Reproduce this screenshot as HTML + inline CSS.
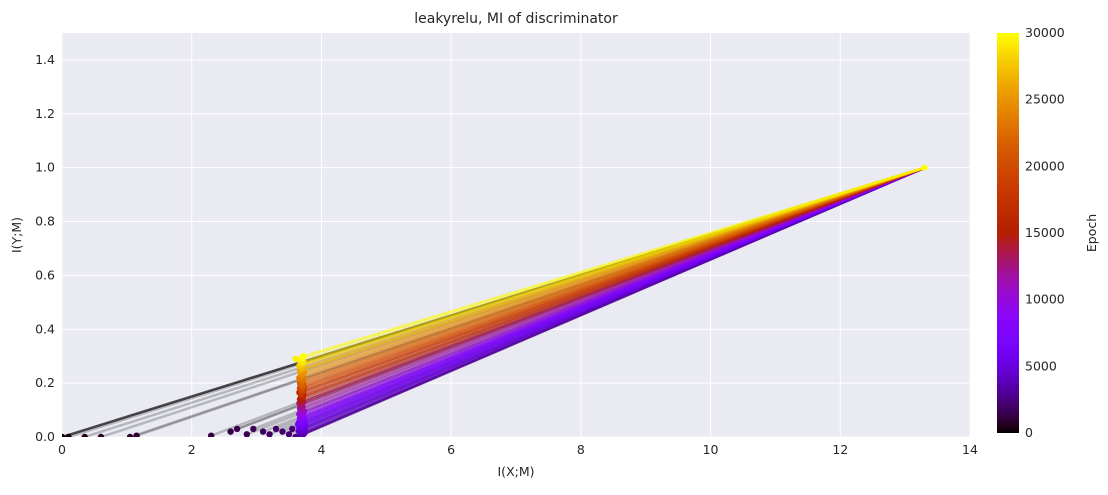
<!DOCTYPE html>
<html><head><meta charset="utf-8"><style>
body{margin:0;background:#fff;font-family:"Liberation Sans","DejaVu Sans",sans-serif;}
svg text{font-family:"DejaVu Sans","Liberation Sans",sans-serif;fill:#262626;}
</style></head><body>
<svg id="c" width="1108" height="490" viewBox="0 0 1108 490" xmlns="http://www.w3.org/2000/svg"></svg>
<script>
const epochs=[0,200,400,600,800,1000,1200,1400,1500,1600,1700,1800,1900,2000,2100,2200,2300,2400,
2500,2700,2900,3100,3300,3500,3700,3900,4100,4300,4500,4700,4900,5100,5300,5500,5700,5900,6100,6300,6500,6700,6900,7100,7300,7500,7700,7900,
8200,8600,9000,9400,9800,10200,10600,11000,11400,11800,12200,12600,13000,13400,13800,
14200,14600,15000,15400,15800,16200,16600,17000,17400,17800,18200,18600,19000,19400,19800,
20200,20600,21000,21400,21800,22200,22600,23000,23400,23800,24200,24600,25000,25400,25800,
26200,26600,27000,27400,27800,28200,28600,29000,29400,29800,30000];
const ixm=[0.0,0.1,0.35,0.6,1.05,1.15,2.3,2.6,2.7,2.85,2.95,3.1,3.2,3.3,3.4,3.5,3.55,3.6,
3.62,3.66,3.7,3.72,3.68,3.74,3.7,3.73,3.65,3.71,3.69,3.74,3.7,3.66,3.72,3.68,3.75,3.7,3.64,3.73,3.69,3.71,3.66,3.74,3.7,3.68,3.72,3.67,
3.7,3.72,3.68,3.71,3.66,3.7,3.73,3.69,3.67,3.71,3.7,3.68,3.66,3.72,3.69,
3.7,3.67,3.71,3.69,3.72,3.68,3.7,3.66,3.72,3.69,3.71,3.67,3.7,3.73,3.68,
3.7,3.72,3.67,3.71,3.69,3.7,3.68,3.72,3.66,3.71,3.69,3.7,3.73,3.67,3.7,
3.68,3.72,3.69,3.66,3.7,3.71,3.68,3.72,3.6,3.69,3.72];
const iym=[0.0,0.0,0.0,0.0,0.0,0.005,0.005,0.02,0.03,0.01,0.03,0.02,0.01,0.03,0.02,0.01,0.03,0.0,
0.0,0.004,0.008,0.01,0.012,0.015,0.018,0.02,0.022,0.025,0.028,0.03,0.032,0.035,0.037,0.04,0.042,0.045,0.047,0.05,0.052,0.055,0.057,0.06,0.062,0.065,0.068,0.07,
0.072,0.075,0.078,0.082,0.085,0.09,0.095,0.1,0.105,0.11,0.115,0.12,0.125,0.13,0.135,
0.13,0.14,0.145,0.15,0.155,0.16,0.15,0.165,0.17,0.16,0.175,0.18,0.17,0.185,0.19,
0.18,0.195,0.2,0.19,0.2,0.205,0.21,0.215,0.22,0.225,0.23,0.235,0.24,0.245,0.25,
0.25,0.255,0.26,0.265,0.27,0.27,0.275,0.28,0.29,0.29,0.3];
const endX=13.3, endY=1.0;
const xTicks=[0,2,4,6,8,10,12,14];
const yTicks=[0.0,0.2,0.4,0.6,0.8,1.0,1.2,1.4];
const cbTicks=[0,5000,10000,15000,20000,25000,30000];

const NS="http://www.w3.org/2000/svg";
const svg=document.getElementById('c');
const L=62,R=970,T=33,B=437;
const sx=v=>L+v/14*(R-L), sy=v=>B-v/1.5*(B-T);
function el(t,a,p){const e=document.createElementNS(NS,t);for(const k in a)e.setAttribute(k,a[k]);(p||svg).appendChild(e);return e;}
function cmap(t){t=Math.max(0,Math.min(1,t));const r=Math.sqrt(t),g=t*t*t,b=Math.max(0,Math.sin(2*Math.PI*t));return `rgb(${Math.round(r*255)},${Math.round(g*255)},${Math.round(b*255)})`;}

const bg=el('rect',{x:L,y:T,width:R-L,height:B-T,fill:'#eaeaf2'});


xTicks.forEach(v=>{
 const g=el('line',{x1:sx(v),x2:sx(v),y1:T,y2:B,stroke:'#fff','stroke-width':1});
 
 
 const t=el('text',{x:sx(v),y:B+17,'text-anchor':'middle','font-size':12.5});t.textContent=v;
 
 
});
yTicks.forEach(v=>{
 const g=el('line',{x1:L,x2:R,y1:sy(v),y2:sy(v),stroke:'#fff','stroke-width':1});
 
 
 const t=el('text',{x:L-7,y:sy(v)+4,'text-anchor':'end','font-size':12.5});t.textContent=v.toFixed(1);
 
 
});
const clip=el('clipPath',{id:'pc'});el('rect',{x:L,y:T,width:R-L,height:B-T},clip);
const gl=el('g',{'clip-path':'url(#pc)'});
epochs.forEach((e,i)=>{
 const early=e<=2400;
 const ln=el('line',{x1:sx(ixm[i]),y1:sy(iym[i]),x2:sx(endX),y2:sy(endY),stroke:early?'#000':cmap(e/30000),'stroke-opacity':early?(i==0?0.7:0.22):0.35,'stroke-width':2.5},gl);
 
 
});
epochs.forEach((e,i)=>{
 const c=el('circle',{cx:sx(ixm[i]),cy:sy(iym[i]),r:3.2,fill:cmap(e/30000)},gl);
 
 
});
const ep=el('circle',{cx:sx(endX),cy:sy(endY),r:3,fill:cmap(1)},gl);



const title=el('text',{x:(L+R)/2,y:23,'text-anchor':'middle','font-size':14});title.textContent='leakyrelu, MI of discriminator';


const xl=el('text',{x:(L+R)/2,y:476,'text-anchor':'middle','font-size':12.5});xl.textContent='I(X;M)';


const yl=el('text',{x:0,y:0,'text-anchor':'middle','font-size':12.5,transform:`translate(21,${(T+B)/2}) rotate(-90)`});yl.textContent='I(Y;M)';



const CX=997,CW=22,CT=33,CB=433;
const defs=el('defs',{});
const gr=el('linearGradient',{id:'cg',x1:0,y1:1,x2:0,y2:0},defs);
for(let i=0;i<=50;i++){el('stop',{offset:i/50,'stop-color':cmap(i/50)},gr);}
const cb=el('rect',{x:CX,y:CT,width:CW,height:CB-CT,fill:'url(#cg)'});


cbTicks.forEach(v=>{
 const y=CB-v/30000*(CB-CT);
 const t=el('text',{x:CX+CW+6,y:y+4,'font-size':12.5});t.textContent=v;
 
 
});
const cl=el('text',{x:0,y:0,'text-anchor':'middle','font-size':12.5,transform:`translate(1096,${(CT+CB)/2}) rotate(-90)`});cl.textContent='Epoch';


</script>
</body></html>
